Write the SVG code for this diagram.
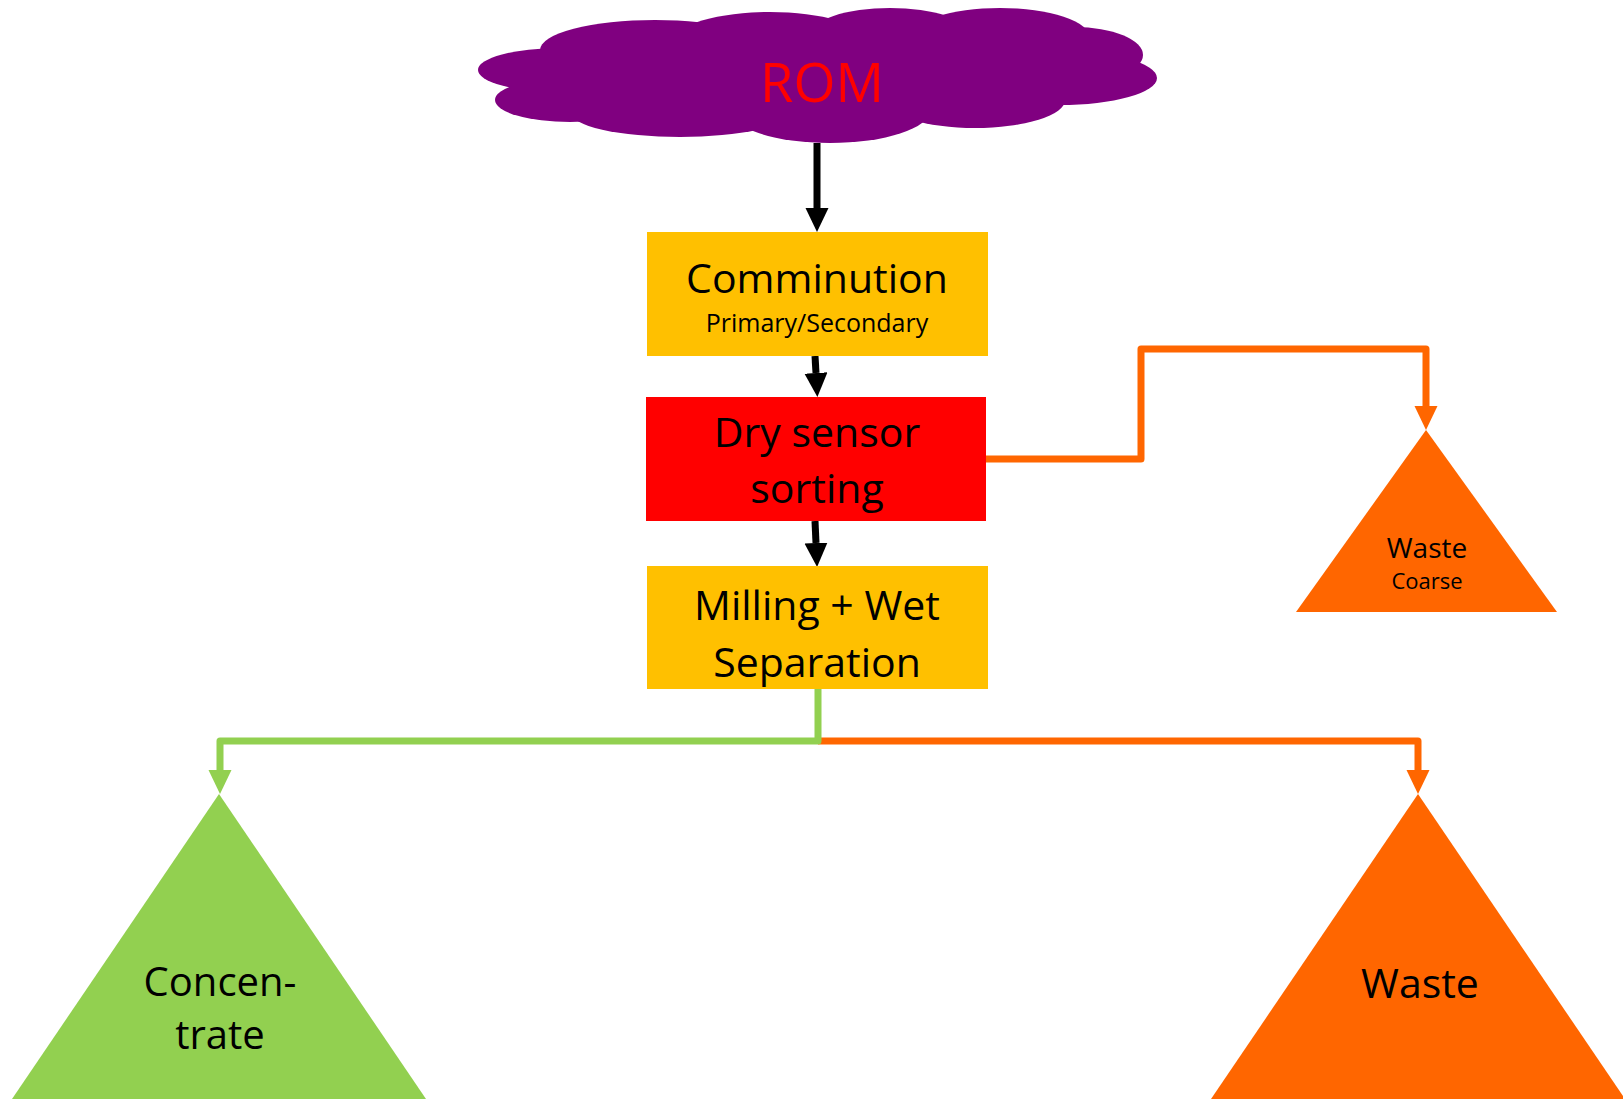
<svg xmlns="http://www.w3.org/2000/svg" width="1623" height="1099" viewBox="0 0 1623 1099">
<style>
text{font-family:"Open Sans","Noto Sans",sans-serif;text-anchor:middle;fill:#000}
.big{font-size:41px}
.ln{fill:none;stroke-width:7;stroke-linejoin:round}
</style>
<defs>
<marker id="ab" markerUnits="userSpaceOnUse" markerWidth="24" markerHeight="24" refX="0" refY="11.5" orient="auto"><path d="M0,0 L24,11.5 L0,23 z" fill="#000"/></marker>
<marker id="ao" markerUnits="userSpaceOnUse" markerWidth="24" markerHeight="24" refX="0" refY="11.5" orient="auto"><path d="M0,0 L24,11.5 L0,23 z" fill="#FF6600"/></marker>
<marker id="ag" markerUnits="userSpaceOnUse" markerWidth="24" markerHeight="24" refX="0" refY="11.5" orient="auto"><path d="M0,0 L24,11.5 L0,23 z" fill="#92D050"/></marker>
</defs>
<rect width="1623" height="1099" fill="#fff"/>
<g id="connectors">
<path class="ln" d="M817,143 V208" stroke="#000" marker-end="url(#ab)"/>
<path class="ln" d="M815,356 L816,373" stroke="#000" marker-end="url(#ab)"/>
<path class="ln" d="M815,521 L816,543" stroke="#000" marker-end="url(#ab)"/>
<path class="ln" d="M986,459 H1141 V349 H1426 V406" stroke="#FF6600" marker-end="url(#ao)"/>
<path class="ln" d="M818,741 H1418 V770" stroke="#FF6600" marker-end="url(#ao)"/>
<path class="ln" d="M818,688 V741 H220 V770" stroke="#92D050" marker-end="url(#ag)"/>
</g>
<g id="rom" fill="#800080">
<ellipse cx="560" cy="70" rx="82" ry="22"/>
<ellipse cx="570" cy="100" rx="75" ry="22"/>
<ellipse cx="655" cy="50" rx="115" ry="30"/>
<ellipse cx="770" cy="40" rx="95" ry="28"/>
<ellipse cx="890" cy="35" rx="80" ry="27"/>
<ellipse cx="1000" cy="38" rx="90" ry="30"/>
<ellipse cx="1075" cy="55" rx="68" ry="28"/>
<ellipse cx="1060" cy="78" rx="97" ry="27"/>
<ellipse cx="975" cy="100" rx="90" ry="28"/>
<ellipse cx="830" cy="110" rx="100" ry="33"/>
<ellipse cx="680" cy="112" rx="110" ry="25"/>
<ellipse cx="815" cy="75" rx="250" ry="40"/>
<text x="822" y="102" style="font-size:54px;fill:#FF0000">ROM</text>
</g>
<g id="comminution">
<rect x="647" y="232" width="341" height="124" fill="#FFC000"/>
<text class="big" x="817" y="293">Comminution</text>
<text x="817" y="332" style="font-size:25px">Primary/Secondary</text>
</g>
<g id="dry">
<rect x="646" y="397" width="340" height="124" fill="#FF0000"/>
<text class="big" x="817" y="447">Dry sensor</text>
<text class="big" x="817" y="503">sorting</text>
</g>
<g id="milling">
<rect x="647" y="566" width="341" height="123" fill="#FFC000"/>
<text class="big" x="817" y="620">Milling + Wet</text>
<text class="big" x="817" y="677">Separation</text>
</g>
<g id="waste-coarse">
<polygon points="1426,430 1557,612 1296,612" fill="#FF6600"/>
<text x="1427" y="558" style="font-size:28px">Waste</text>
<text x="1427" y="589" style="font-size:22px">Coarse</text>
</g>
<g id="concentrate">
<polygon points="219,794 426,1099 12,1099" fill="#92D050"/>
<text x="220" y="996" style="font-size:40px">Concen-</text>
<text x="220" y="1049" style="font-size:40px">trate</text>
</g>
<g id="waste">
<polygon points="1418,794 1625,1099 1211,1099" fill="#FF6600"/>
<text class="big" x="1420" y="998">Waste</text>
</g>
</svg>
